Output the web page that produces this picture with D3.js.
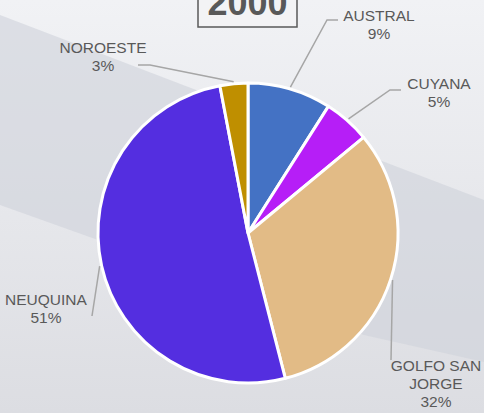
<!DOCTYPE html>
<html>
<head>
<meta charset="utf-8">
<script src="https://cdn.jsdelivr.net/npm/d3@7/dist/d3.min.js"></script>
<style>
html,body{margin:0;padding:0;background:#fff;}
svg{display:block;}
</style>
</head>
<body>
<script>
// ---- data ----
const categories = ["AUSTRAL", "CUYANA", "GOLFO SAN JORGE", "NEUQUINA", "NOROESTE"];
const values = [9, 5, 32, 51, 3];
const labelLines = [["AUSTRAL"], ["CUYANA"], ["GOLFO SAN", "JORGE"], ["NEUQUINA"], ["NOROESTE"]];
const colors = ["#4472C4", "#B61EF7", "#E2BB86", "#542EE0", "#BF8F00"];
const title = "2000";

// ---- layout (label placement, not data) ----
const labelLayout = [
  {elbow:[327,20], end:[338,20], text:[379,21]},
  {elbow:[390,90], end:[401,90], text:[439,89]},
  {elbow:[391,360], end:null, text:[436,371]},
  {elbow:[92,316], end:null, text:[46,305]},
  {elbow:[150,65], end:[138,65], text:[103,53]}
];

const W = 484, H = 413;
const cx = 248, cy = 233, R = 150;

const svg = d3.select("body").append("svg").attr("width", W).attr("height", H);
const defs = svg.append("defs");
const g1 = defs.append("linearGradient").attr("id","bg").attr("x1",0).attr("y1",0).attr("x2",0).attr("y2",1);
g1.append("stop").attr("offset","0%").attr("stop-color","#f1f2f5");
g1.append("stop").attr("offset","100%").attr("stop-color","#dcdde2");
svg.append("rect").attr("width",W).attr("height",H).attr("fill","url(#bg)");

// diagonal band
svg.append("path")
  .attr("d", d3.line()([[0,15],[484,200],[484,362],[364,335],[0,205]]) + "Z")
  .attr("fill","#cfd2da").attr("opacity",0.6);

// title box
svg.append("rect").attr("x",198).attr("y",-10).attr("width",99).attr("height",37)
  .attr("fill","#f3f3f5").attr("stroke","#595959").attr("stroke-width",1.5);
svg.append("text").attr("x",247.5).attr("y",15).attr("text-anchor","middle")
  .attr("font-family","Liberation Sans, Arial, sans-serif").attr("font-weight","bold")
  .attr("font-size",36).attr("fill","#595959").text(title);

const pie = d3.pie().sort(null).value(d => d)(values);
const arc = d3.arc().innerRadius(0).outerRadius(R);
const gp = svg.append("g").attr("transform",`translate(${cx},${cy})`);
gp.selectAll("path").data(pie).join("path")
  .attr("d", arc)
  .attr("fill", (d,i) => colors[i])
  .attr("stroke","#fff").attr("stroke-width",3).attr("stroke-linejoin","round");

// leader lines and labels
const total = d3.sum(values);
pie.forEach((d,i) => {
  const a = (d.startAngle + d.endAngle)/2;
  const r0 = R + 2;
  const p0 = [cx + r0*Math.sin(a), cy - r0*Math.cos(a)];
  const L = labelLayout[i];
  const pts = [p0, L.elbow];
  if (L.end) pts.push(L.end);
  svg.append("path").attr("d", d3.line()(pts)).attr("fill","none")
    .attr("stroke","#a6a6a6").attr("stroke-width",1.5);
  const lines = labelLines[i].concat([Math.round(values[i]/total*100) + "%"]);
  const t = svg.append("text").attr("text-anchor","middle")
    .attr("font-family","Liberation Sans, Arial, sans-serif")
    .attr("font-size",15.5).attr("fill","#595959");
  lines.forEach((s,k) => {
    t.append("tspan").attr("x",L.text[0]).attr("y",L.text[1] + k*18).text(s);
  });
});
</script>
</body>
</html>
